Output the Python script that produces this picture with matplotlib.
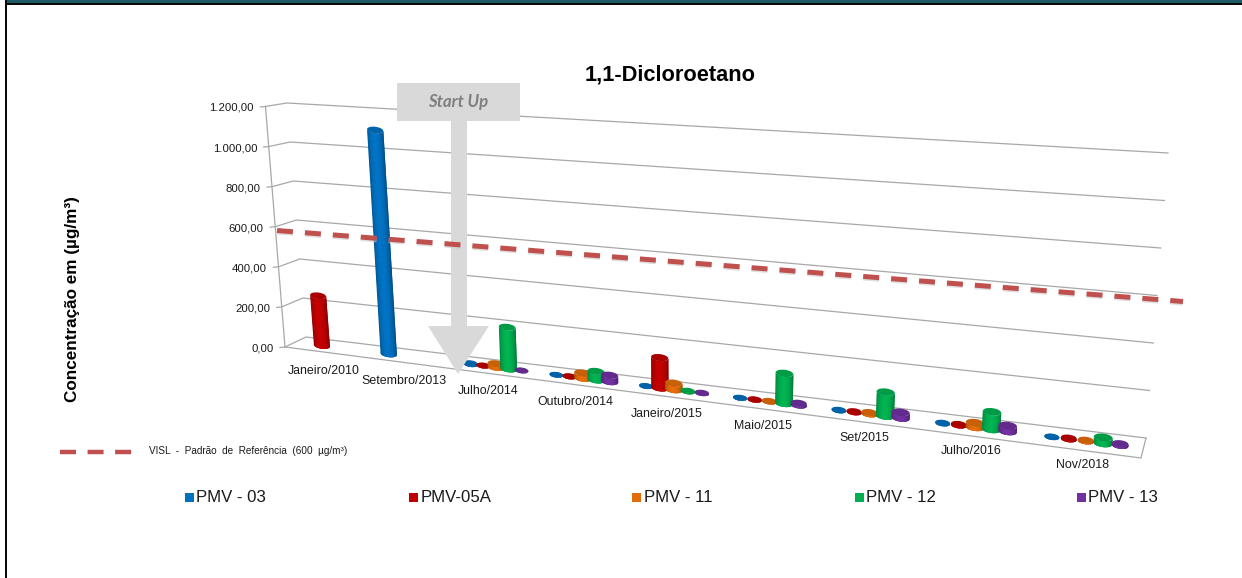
import numpy as np
import matplotlib
matplotlib.use("Agg")
import matplotlib.pyplot as plt
from matplotlib.patches import Ellipse, Polygon, Rectangle
from matplotlib.colors import to_rgb

# ---------- data ----------
categories = ["Janeiro/2010", "Setembro/2013", "Julho/2014", "Outubro/2014", "Janeiro/2015",
              "Maio/2015", "Set/2015", "Julho/2016", "Nov/2018"]
series_names = ["PMV - 03", "PMV-05A", "PMV - 11", "PMV - 12", "PMV - 13"]
pmv_03 = [None, 1105, 5, 1, 1, 1, 2, 2, 1]
pmv_05a = [250, None, 2, 2, 140, 2, 4, 5, 5]
pmv_11 = [None, None, 18, 25, 30, 3, 8, 20, 5]
pmv_12 = [None, None, 200, 40, 3, 135, 105, 75, 25]
pmv_13 = [None, None, 1, 30, 2, 10, 25, 25, 8]
series_values = [pmv_03, pmv_05a, pmv_11, pmv_12, pmv_13]
series_colors = ["#0070C0", "#C00000", "#E36C0A", "#00B050", "#7030A0"]
y_ticks = [0, 200, 400, 600, 800, 1000, 1200]
y_tick_labels = ["0,00", "200,00", "400,00", "600,00", "800,00", "1.000,00", "1.200,00"]
title = "1,1-Dicloroetano"
y_label = "Concentração em (µg/m³)"
ref_label = "VISL  -  Padrão  de  Referência  (600  µg/m³)"

# ---------- projection of the 3D chart box onto the picture ----------
VMAX = 1200.0
NCAT = len(categories)
K = 1.24
L_FB, L_BB, L_BT = np.array([285., 347.]), np.array([306., 337.]), np.array([287., 103.])
R_FB, R_BB, R_BT = np.array([1141., 458.]), np.array([1146., 438.]), np.array([1168., 153.])


def lam_of(u):
    t = u / NCAT
    return t / (t + (1 - t) * K)


def proj(u, d, v):
    lam = lam_of(u)
    near = 1 + 0.028 * (1 - d)
    left = L_FB + d * (L_BB - L_FB) + near * v / VMAX * (L_BT - L_BB)
    right = R_FB + d * (R_BB - R_FB) + near * v / VMAX * (R_BT - R_BB)
    return left + lam * (right - left)


fig = plt.figure(figsize=(12.42, 5.78), dpi=100)
ax = fig.add_axes([0, 0, 1, 1])
ax.set_xlim(0, 1242)
ax.set_ylim(578, 0)
ax.axis("off")
FONT = "Liberation Sans"
TXT = "#1a1a1a"
GRID = "#a8a8a8"

# frame
ax.add_patch(Rectangle((7, 0), 1235, 3, fc="#1f5c68", ec="none", zorder=1))
ax.add_patch(Rectangle((7, 3), 1235, 2, fc="#0a0a0a", ec="none", zorder=1))
ax.add_patch(Rectangle((5, 0), 2, 578, fc="#0a0a0a", ec="none", zorder=1))

# grid, walls, floor
for tick, lab in zip(y_ticks, y_tick_labels):
    a = proj(0, 0, tick)
    b = proj(0, 1, tick)
    c = proj(NCAT, 1, tick)
    ax.plot([a[0] - 5, a[0], b[0], c[0]], [a[1] + 0.5, a[1], b[1], c[1]], color=GRID, lw=0.9, zorder=2)
    ax.text(a[0] - 11.5, a[1] + 1.5, lab, ha="right", va="center", fontsize=8.2, family=FONT, color=TXT)
a, b = proj(0, 0, 0), proj(0, 0, VMAX)
ax.plot([a[0], b[0]], [a[1], b[1]], color=GRID, lw=0.9, zorder=2)
p0, p1, p2 = proj(0, 0, 0), proj(NCAT, 0, 0), proj(NCAT, 1, 0)
ax.plot([p0[0], p1[0], p2[0]], [p0[1], p1[1], p2[1]], color=GRID, lw=0.9, zorder=2)


# cylinders
def shade(col, f):
    return tuple(np.clip(np.array(to_rgb(col)) * f, 0, 1))


def cylinder(u, v, col, z):
    base = proj(u, 0.48, 0)
    top = proj(u, 0.48, v)
    w = (8.0 + 1.5 * lam_of(u)) * (0.80 + 0.20 * min(v, 20) / 20)
    r = 0.40
    slope = (p1[1] - p0[1]) / (p1[0] - p0[0])
    ang = np.degrees(np.arctan(slope))
    ax.add_patch(Ellipse(base, 2 * w, 2 * w * r, angle=ang, fc=shade(col, 0.78), ec="none", zorder=z))
    edges = np.linspace(-1, 1, 25)
    arc = r * w * np.sqrt(np.clip(1 - edges ** 2, 0, 1))
    for i in range(len(edges) - 1):
        m = (edges[i] + edges[i + 1]) / 2
        f = 0.70 + 0.33 * max(np.cos(np.pi / 2 * (m + 0.05)), 0) ** 0.7
        # each strip overlaps the next one only, which hides seams and keeps the outer edge smooth
        idx = np.arange(i, min(i + 3, len(edges)))
        xs = edges[idx] * w
        upper = [(top[0] + x, top[1] + x * slope + q) for x, q in zip(xs, arc[idx])]
        lower = [(base[0] + x, base[1] + x * slope + q) for x, q in zip(xs, arc[idx])]
        ax.add_patch(Polygon(upper + lower[::-1], closed=True, fc=shade(col, f), ec="none", zorder=z))
    ax.add_patch(Ellipse(top, 2 * w, 2 * w * r, angle=ang, fc=shade(col, 0.88), ec="none", zorder=z + 0.1))


offsets = [0.20, 0.35, 0.50, 0.65, 0.80]
z = 3.0
for c in range(NCAT):
    for vals, off, col in zip(series_values, offsets, series_colors):
        if vals[c] is not None:
            cylinder(c + off, vals[c], col, z)
        z += 0.2

# category labels
for c, lab in enumerate(categories):
    p = proj(c + 0.5, 0, 0)
    ax.text(p[0], p[1] + 19 - 4 * c / 8, lab, ha="center", va="center", fontsize=8.9, family=FONT, color=TXT, zorder=40)

# Start Up arrow overlay
ARW = "#d9d9d9"
ax.add_patch(Polygon([(451, 121), (467, 121), (467, 326), (489, 326), (458, 374), (428, 326), (451, 326)],
                     closed=True, fc=ARW, ec="none", zorder=50))
ax.add_patch(Rectangle((397, 83), 123, 38, fc=ARW, ec="none", zorder=50))
ax.text(458.5, 102.5, "Start Up", ha="center", va="center", fontsize=12.2, family="Lato",
        weight="bold", style="italic", color="#7f7f7f", zorder=51)

# reference line overlay
REF = "#c0504d"
ax.plot([277, 1183], [232, 303], color="#c8c8c8", lw=3.6, ls=(0, (3.2, 2.4)), alpha=0.6, zorder=51)
ax.plot([277, 1183], [230.5, 301.5], color=REF, lw=3.6, ls=(0, (3.2, 2.4)), zorder=52)

# title and axis label
ax.text(670, 75, title, ha="center", va="center", fontsize=15.7, weight="bold", family=FONT, color="#000000")
ax.text(73, 299, y_label, rotation=90, ha="center", va="center", fontsize=12.3, weight="bold", family=FONT, color="#000000")

# legends
ax.plot([60, 133], [452, 452], color=REF, lw=3.2, ls=(0, (3.6, 2.6)), zorder=5)
ax.text(149, 451, ref_label, ha="left", va="center", fontsize=7.2, family=FONT, color=TXT)
legend_x = [185, 409, 632, 855, 1077]
for nm, col, x in zip(series_names, series_colors, legend_x):
    ax.add_patch(Rectangle((x, 493), 8.5, 8.5, fc=col, ec="none", zorder=5))
    ax.text(x + 11.5, 497, nm, ha="left", va="center", fontsize=12.1, family=FONT, color=TXT)

fig.savefig("out.png", dpi=100, facecolor="white")
